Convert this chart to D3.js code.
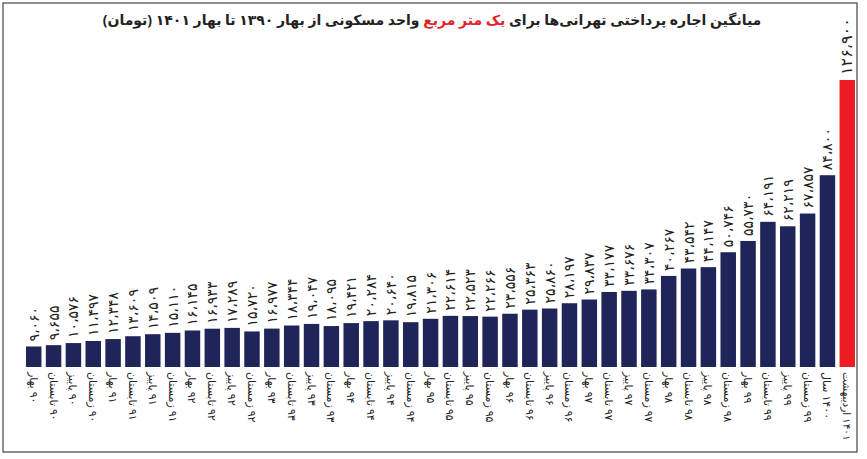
<!DOCTYPE html>
<html><head><meta charset="utf-8">
<script src="https://cdn.jsdelivr.net/npm/d3@7"></script>
<style>body{margin:0;background:#fff;font-family:"Noto Sans","DejaVu Sans",sans-serif}</style>
</head><body>
<svg id="c" width="867" height="459"></svg>
<script>
const seasons = ["بهار","تابستان","پاییز","زمستان"];
const years = ["۹۰","۹۱","۹۲","۹۳","۹۴","۹۵","۹۶","۹۷","۹۸","۹۹"];
const extraLabels = ["۱۴۰۰ سال","۱۴۰۱ اردیبهشت"];
const values = [9060,9655,10576,11497, 12348,13609,14509,15110, 16145,16933,17289,15720,
 16977,18344,19047,18095, 19421,20284,20640,19815, 21306,22614,22523,22266,
 23556,25363,25860,28197, 29837,33177,33676,34307, 40267,43542,44147,50746,
 55730,64191,62219,67857, 84800, 126900];
const categories = [];
years.forEach(y => seasons.forEach(s => categories.push(y + " " + s)));
extraLabels.forEach(l => categories.push(l));

const fa = n => String(n).replace(/\d/g, d => "۰۱۲۳۴۵۶۷۸۹"[d]);
const fmt = v => fa(Math.floor(v/1000)) + "،" + fa(String(v%1000).padStart(3,"0"));

const svg = d3.select("#c");
svg.append("rect").attr("x",3).attr("y",3).attr("width",854).attr("height",449)
  .attr("fill","none").attr("stroke","#444").attr("stroke-width",1.2);

const t = svg.append("text").attr("x",432).attr("y",25).attr("text-anchor","middle")
  .attr("direction","rtl").attr("font-weight","bold").attr("font-size",14).attr("fill","#222");
t.append("tspan").text("میانگین اجاره پرداختی تهرانی‌ها برای ");
t.append("tspan").attr("fill","#e32228").text("یک متر مربع");
t.append("tspan").text(" واحد مسکونی از بهار ۱۳۹۰ تا بهار ۱۴۰۱ (تومان)");

const x = d3.scaleBand().domain(categories).range([24, 857]).paddingInner(0.22).paddingOuter(0.1);
const base = 367;
const y = d3.scaleLinear().domain([0, 126900]).range([base, 80]);

const g = svg.append("g");
g.selectAll("rect.b").data(values).join("rect").attr("class","b")
  .attr("x",(d,i)=>x(categories[i])).attr("width",x.bandwidth())
  .attr("y",d=>y(d)).attr("height",d=>base-y(d))
  .attr("fill",(d,i)=>i===values.length-1?"#ec1c24":"#1f2558");

g.selectAll("text.v").data(values).join("text").attr("class","v")
  .attr("transform",(d,i)=>`translate(${x(categories[i])+x.bandwidth()/2+5},${y(d)-5}) rotate(-90)`)
  .attr("font-size",(d,i)=>i===values.length-1?16:14).attr("fill","#222")
  .text(d=>fmt(d));

g.selectAll("text.c").data(categories).join("text").attr("class","c")
  .attr("transform",(d,i)=>`translate(${x(d)+x.bandwidth()/2-4},${base+5}) rotate(90)`)
  .attr("font-size",(d,i)=>i===categories.length-1?10.5:11).attr("fill","#222").attr("direction","rtl").attr("text-anchor","end")
  .text(d=>d);
</script></body></html>
